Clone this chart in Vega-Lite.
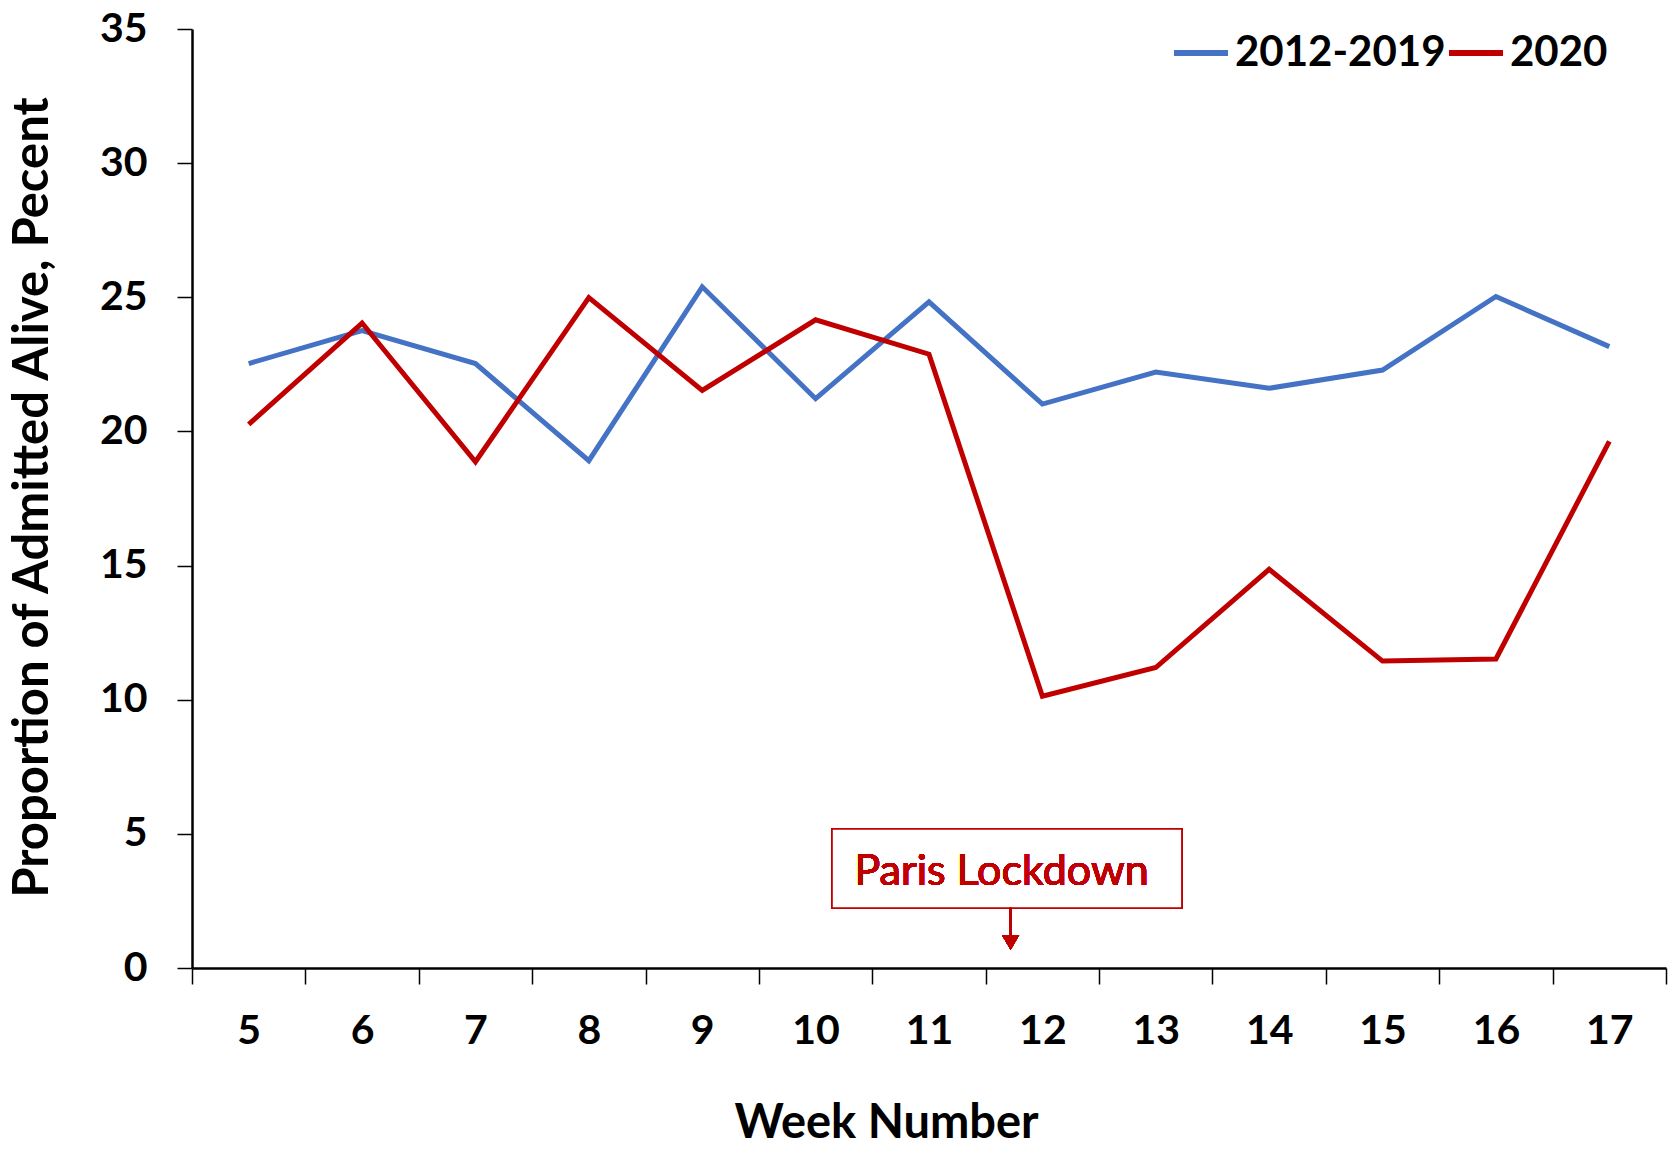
{
  "$schema": "https://vega.github.io/schema/vega-lite/v6.json",
  "width": 1474,
  "height": 939,
  "autosize": {"type": "none"},
  "padding": {"left": 192, "top": 29, "right": 5, "bottom": 185},
  "background": "white",
  "config": {
    "view": {"stroke": null},
    "font": "Lato"
  },
  "data": {
    "values": [
      {"week": 5, "series": "2012-2019", "value": 22.53},
      {"week": 6, "series": "2012-2019", "value": 23.76},
      {"week": 7, "series": "2012-2019", "value": 22.53},
      {"week": 8, "series": "2012-2019", "value": 18.91},
      {"week": 9, "series": "2012-2019", "value": 25.39},
      {"week": 10, "series": "2012-2019", "value": 21.22},
      {"week": 11, "series": "2012-2019", "value": 24.83},
      {"week": 12, "series": "2012-2019", "value": 21.02},
      {"week": 13, "series": "2012-2019", "value": 22.21},
      {"week": 14, "series": "2012-2019", "value": 21.61},
      {"week": 15, "series": "2012-2019", "value": 22.29},
      {"week": 16, "series": "2012-2019", "value": 25.03},
      {"week": 17, "series": "2012-2019", "value": 23.16},
      {"week": 5, "series": "2020", "value": 20.26},
      {"week": 6, "series": "2020", "value": 24.04},
      {"week": 7, "series": "2020", "value": 18.87},
      {"week": 8, "series": "2020", "value": 24.99},
      {"week": 9, "series": "2020", "value": 21.53},
      {"week": 10, "series": "2020", "value": 24.16},
      {"week": 11, "series": "2020", "value": 22.88},
      {"week": 12, "series": "2020", "value": 10.13},
      {"week": 13, "series": "2020", "value": 11.20},
      {"week": 14, "series": "2020", "value": 14.86},
      {"week": 15, "series": "2020", "value": 11.44},
      {"week": 16, "series": "2020", "value": 11.52},
      {"week": 17, "series": "2020", "value": 19.63}
    ]
  },
  "layer": [
    {
      "mark": {"type": "line", "strokeWidth": 5, "strokeJoin": "miter", "clip": false},
      "encoding": {
        "x": {
          "field": "week",
          "type": "quantitative",
          "scale": {"domain": [4.5, 17.5], "nice": false, "zero": false},
          "axis": {
            "values": [4.5, 5.5, 6.5, 7.5, 8.5, 9.5, 10.5, 11.5, 12.5, 13.5, 14.5, 15.5, 16.5, 17.5],
            "labelExpr": "datum.value < 17 ? format(datum.value + 0.5, 'd') : ''",
            "labelOffset": 56.7,
            "labelOverlap": false,
            "labelBound": false,
            "labelFlush": false,
            "labelFont": "Lato",
            "labelFontWeight": "bold",
            "labelFontSize": 41,
            "labelColor": "black",
            "labelPadding": 27,
            "labelBaseline": "top",
            "tickSize": 16,
            "tickColor": "black",
            "tickWidth": 1.5,
            "domainColor": "black",
            "domainWidth": 2.5,
            "grid": false,
            "title": "Week Number",
            "titleFont": "Lato",
            "titleFontWeight": "bold",
            "titleFontSize": 47,
            "titleColor": "black",
            "titleX": 694,
            "titleY": 169,
            "titleAlign": "center",
            "titleBaseline": "alphabetic"
          }
        },
        "y": {
          "field": "value",
          "type": "quantitative",
          "scale": {"domain": [0, 35], "nice": false},
          "axis": {
            "values": [0, 5, 10, 15, 20, 25, 30, 35],
            "labelFont": "Lato",
            "labelFontWeight": "bold",
            "labelFontSize": 41,
            "labelColor": "black",
            "labelPadding": 30,
            "tickSize": 15,
            "tickColor": "black",
            "tickWidth": 1.5,
            "domainColor": "black",
            "domainWidth": 2.5,
            "grid": false,
            "title": "Proportion of Admitted Alive, Pecent",
            "titleFont": "Lato",
            "titleFontWeight": "bold",
            "titleFontSize": 49,
            "titleColor": "black",
            "titleAngle": -90,
            "titleX": -145,
            "titleY": 468,
            "titleAlign": "center",
            "titleBaseline": "alphabetic"
          }
        },
        "color": {
          "field": "series",
          "type": "nominal",
          "scale": {"domain": ["2012-2019", "2020"], "range": ["#4472C4", "#C00000"]},
          "legend": {
            "title": null,
            "orient": "none",
            "direction": "horizontal",
            "legendX": 979,
            "legendY": -6,
            "symbolType": "stroke",
            "symbolSize": 2916,
            "symbolStrokeWidth": 6,
            "labelFont": "Lato",
            "labelFontWeight": "bold",
            "labelFontSize": 42,
            "labelColor": "black",
            "labelOffset": 4,
            "columnPadding": -11,
            "labelLimit": 400
          }
        }
      }
    },
    {
      "mark": {"type": "rect", "fill": "white", "stroke": "#C00000", "strokeWidth": 1.5},
      "encoding": {
        "x": {"datum": 10.145, "type": "quantitative"},
        "x2": {"datum": 13.23},
        "y": {"datum": 5.18, "type": "quantitative"},
        "y2": {"datum": 2.24}
      }
    },
    {
      "mark": {"type": "text", "text": "Paris Lockdown", "color": "#C00000", "font": "Lato", "fontWeight": 400, "fontSize": 43, "align": "center", "baseline": "alphabetic"},
      "encoding": {
        "x": {"datum": 11.64, "type": "quantitative"},
        "y": {"datum": 3.09, "type": "quantitative"}
      }
    },
    {
      "mark": {"type": "rule", "color": "#C00000", "strokeWidth": 2},
      "encoding": {
        "x": {"datum": 11.72, "type": "quantitative"},
        "y": {"datum": 2.24, "type": "quantitative"},
        "y2": {"datum": 1.0}
      }
    },
    {
      "mark": {"type": "point", "shape": "triangle-down", "filled": true, "color": "#C00000", "size": 289, "opacity": 1},
      "encoding": {
        "x": {"datum": 11.72, "type": "quantitative"},
        "y": {"datum": 0.95, "type": "quantitative"}
      }
    }
  ]
}
